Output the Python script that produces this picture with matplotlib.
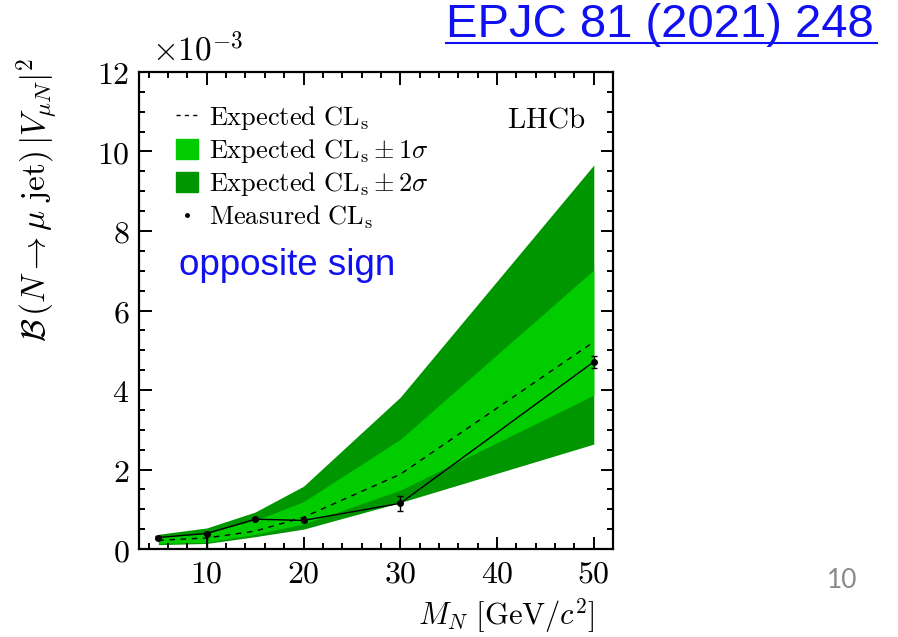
import matplotlib
matplotlib.use("Agg")
import matplotlib.pyplot as plt
from matplotlib.lines import Line2D
from matplotlib.patches import Patch
from matplotlib.ticker import MultipleLocator, FuncFormatter
import numpy as np

plt.rcParams['mathtext.fontset'] = 'cm'

# Kütle noktalari [GeV/c^2] ve limitler (10^-3 biriminde)
mass = np.array([5, 10, 15, 20, 30, 50])
exp_cls = np.array([0.22, 0.28, 0.45, 0.80, 1.88, 5.21])
exp_up1 = np.array([0.31, 0.40, 0.72, 1.19, 2.76, 7.02])
exp_lo1 = np.array([0.14, 0.17, 0.37, 0.63, 1.48, 3.87])
exp_up2 = np.array([0.37, 0.53, 0.93, 1.58, 3.82, 9.66])
exp_lo2 = np.array([0.11, 0.14, 0.31, 0.50, 1.17, 2.64])
meas_cls = np.array([0.29, 0.39, 0.75, 0.72, 1.15, 4.71])
meas_err_lo = np.array([0.03, 0.39, 0.03, 0.03, 0.19, 0.15])
meas_err_hi = np.array([0.03, 0.03, 0.03, 0.03, 0.18, 0.15])

light_green = '#00cc00'
dark_green = '#009600'

fig = plt.figure(figsize=(8.98, 6.37), dpi=100)
ax = fig.add_axes([0.1548, 0.1381, 0.528, 0.7489])

# Bantlar
ax.fill_between(mass, exp_lo2, exp_up2, color=dark_green, lw=0)
ax.fill_between(mass, exp_lo1, exp_up1, color=light_green, lw=0)
ax.plot(mass, exp_cls, color='black', lw=1, ls=(0, (4, 4)))
ax.errorbar(mass, meas_cls, yerr=[meas_err_lo, meas_err_hi], color='black',
            lw=1, marker='o', ms=4, capsize=2, elinewidth=1)

ax.set_xlim(3, 52)
ax.set_ylim(0, 12)
ax.xaxis.set_major_locator(MultipleLocator(10))
ax.xaxis.set_minor_locator(MultipleLocator(2))
ax.yaxis.set_major_locator(MultipleLocator(2))
ax.yaxis.set_minor_locator(MultipleLocator(0.5))
fmt = FuncFormatter(lambda v, p: r'$%g$' % v)
ax.xaxis.set_major_formatter(fmt)
ax.yaxis.set_major_formatter(fmt)
ax.tick_params(which='both', direction='in', top=True, right=True, width=1.4,
               labelsize=23)
ax.tick_params(which='major', length=9, pad=7)
ax.tick_params(which='minor', length=4.5)
for s in ax.spines.values():
    s.set_linewidth(1.6)

# Lejant
handles = [
    Line2D([], [], color='black', lw=1, ls=(0, (3, 3))),
    Patch(color=light_green),
    Patch(color=dark_green),
    Line2D([], [], color='black', ls='none', marker='o', ms=2.5),
]
labels = [r'$\mathrm{Expected\ CL_s}$',
          r'$\mathrm{Expected\ CL_s} \pm 1\sigma$',
          r'$\mathrm{Expected\ CL_s} \pm 2\sigma$',
          r'$\mathrm{Measured\ CL_s}$']
ax.legend(handles, labels, loc='upper left', bbox_to_anchor=(0.078, 0.933),
          frameon=False, fontsize=19, borderpad=0, borderaxespad=0,
          handlelength=0.85, handleheight=0.8, handletextpad=0.4,
          labelspacing=0.2)

ax.text(0.941, 0.9, r'$\mathrm{LHCb}$', transform=ax.transAxes, ha='right',
        va='center', fontsize=21)
ax.text(0.085, 0.575, 'opposite sign', transform=ax.transAxes, color='#1010f0',
        family='Liberation Sans', fontsize=26.5, va='baseline')

# Eksen etiketleri
fig.text(152 / 898, 1 - 50 / 637, r'$\times 10^{-3}$', fontsize=24,
         ha='left', va='center')
fig.text(38 / 898, 1 - 58 / 637,
         r'$\mathcal{B}\,(N \rightarrow \mu\ \mathrm{jet})\,|V_{\mu N}|^2$',
         rotation=90, ha='center', va='top', fontsize=24)
fig.text(595 / 898, 1 - 616 / 637, r'$M_N\ [\mathrm{GeV}/c^2]$', fontsize=22,
         ha='right', va='center')

# Kaynak ve sayfa numarasi
fig.text(446 / 898, 1 - 37 / 637, 'EPJC 81 (2021) 248', color='#1010f0',
         family='Liberation Sans', fontsize=34, ha='left', va='baseline')
fig.add_artist(Line2D([446 / 898, 877 / 898], [1 - 43 / 637, 1 - 43 / 637],
                      color='#1010f0', lw=1.5))
fig.text(842 / 898, 1 - 580 / 637, '10', color='#8a8a8a', family='Lato',
         fontsize=19, ha='center', va='center')

fig.savefig('out.png', dpi=100)
